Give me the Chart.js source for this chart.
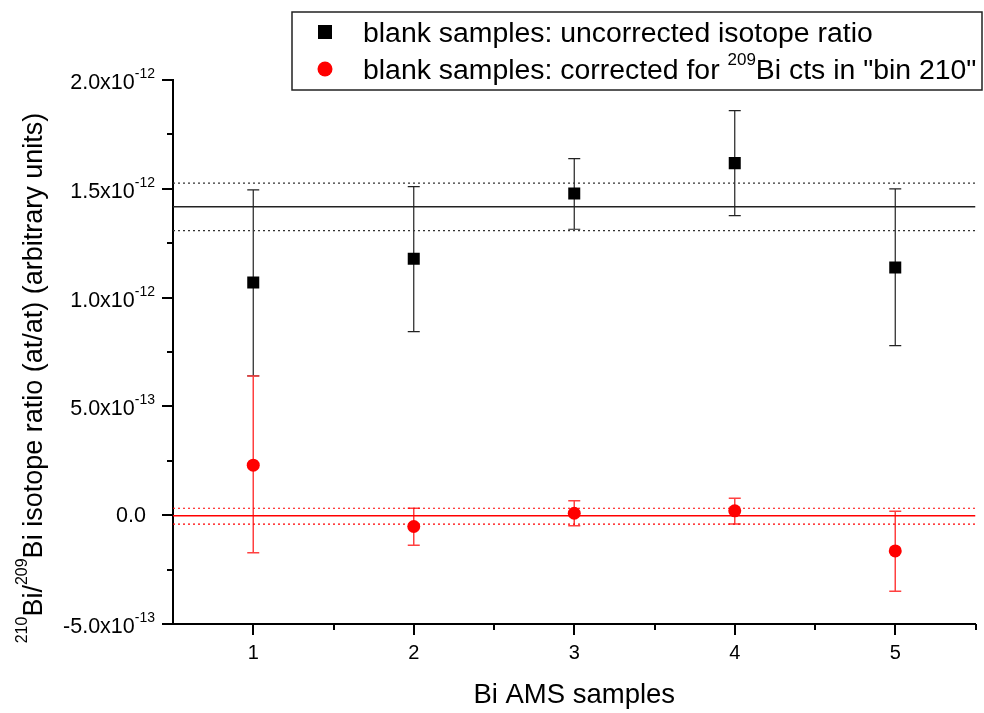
<!DOCTYPE html>
<html>
<head>
<meta charset="utf-8">
<script src="https://cdn.jsdelivr.net/npm/chart.js@4.4.0/dist/chart.umd.min.js"></script>
<style>
  body { margin: 0; background: #fff; }
  #wrap { width: 984px; height: 713px; }
</style>
</head>
<body>
<div id="wrap"><canvas id="chart" width="984" height="713"></canvas></div>
<script>
// sample numbers on the x axis
var samples = [1, 2, 3, 4, 5];

// blank samples, uncorrected isotope ratio (value, lower and upper end of error bar)
var uncorrected     = [1.069e-12, 1.179e-12, 1.478e-12, 1.618e-12, 1.138e-12];
var uncorrectedLow  = [0.640e-12, 0.844e-12, 1.314e-12, 1.377e-12, 0.779e-12];
var uncorrectedHigh = [1.495e-12, 1.510e-12, 1.639e-12, 1.859e-12, 1.500e-12];

// blank samples, corrected for 209Bi counts in "bin 210"
var corrected     = [2.30e-13, -0.52e-13, 0.09e-13, 0.20e-13, -1.64e-13];
var correctedLow  = [-1.72e-13, -1.38e-13, -0.49e-13, -0.41e-13, -3.49e-13];
var correctedHigh = [6.40e-13, 0.32e-13, 0.66e-13, 0.78e-13, 0.18e-13];

// weighted means with their bands
var uncorrectedMean = 1.417e-12;
var uncorrectedBand = [1.308e-12, 1.526e-12];
var correctedMean = -0.03e-13;
var correctedBand = [-0.41e-13, 0.32e-13];

// axis ticks
var xRange = [0.5, 5.5];
var xTicks = [1, 2, 3, 4, 5];
var xMinorTicks = [1.5, 2.5, 3.5, 4.5, 5.5];
var yRange = [-5e-13, 2e-12];
var yTicks = [-5e-13, 0, 5e-13, 1e-12, 1.5e-12, 2e-12];
var yTickMantissa = ["-5.0x10", "0.0", "5.0x10", "1.0x10", "1.5x10", "2.0x10"];
var yTickExponent = ["-13", "", "-13", "-12", "-12", "-12"];
var yMinorTicks = [-2.5e-13, 2.5e-13, 7.5e-13, 1.25e-12, 1.75e-12];

var FONT = "'Liberation Sans', Arial, Helvetica, sans-serif";
var RED = "#ff0000";

function pts(xs, ys) {
    var out = [];
    for (var i = 0; i < xs.length; i++) {
        out.push({x: xs[i], y: ys[i]});
    }
    return out;
}

function hline(y, color, dash, width) {
    return {
        type: "line",
        data: [{x: xRange[0], y: y}, {x: xRange[1], y: y}],
        borderColor: color,
        borderWidth: width,
        borderDash: dash,
        pointRadius: 0,
        fill: false
    };
}

// draw text made of pieces, some of them superscripts
function drawRich(ctx, parts, x, y, mainSize, supSize, supRise) {
    var cx = x;
    for (var i = 0; i < parts.length; i++) {
        var p = parts[i];
        ctx.font = (p.sup ? supSize : mainSize) + "px " + FONT;
        ctx.fillText(p.t, cx, p.sup ? y - supRise : y);
        cx += ctx.measureText(p.t).width;
    }
    return cx - x;
}

function richWidth(ctx, parts, mainSize, supSize) {
    var w = 0;
    for (var i = 0; i < parts.length; i++) {
        ctx.font = (parts[i].sup ? supSize : mainSize) + "px " + FONT;
        w += ctx.measureText(parts[i].t).width;
    }
    return w;
}

// error bars go under the markers
var errorBars = {
    id: "errorBars",
    beforeDatasetsDraw: function(chart) {
        var ctx = chart.ctx;
        var xs = chart.scales.x, ys = chart.scales.y;
        var sets = [
            {v: uncorrectedLow, h: uncorrectedHigh, color: "#222", w: 1.2},
            {v: correctedLow, h: correctedHigh, color: "#ff4040", w: 1.5}
        ];
        ctx.save();
        sets.forEach(function(s) {
            ctx.strokeStyle = s.color;
            ctx.lineWidth = s.w;
            for (var i = 0; i < samples.length; i++) {
                var px = xs.getPixelForValue(samples[i]);
                var lo = ys.getPixelForValue(s.v[i]);
                var hi = ys.getPixelForValue(s.h[i]);
                ctx.beginPath();
                ctx.moveTo(px, lo); ctx.lineTo(px, hi);
                ctx.moveTo(px - 6, lo); ctx.lineTo(px + 6, lo);
                ctx.moveTo(px - 6, hi); ctx.lineTo(px + 6, hi);
                ctx.stroke();
            }
        });
        ctx.restore();
    }
};

// ticks, tick labels, axis titles and the legend box
var decorations = {
    id: "decorations",
    afterDraw: function(chart) {
        var ctx = chart.ctx;
        var xs = chart.scales.x, ys = chart.scales.y;
        var area = chart.chartArea;
        ctx.save();
        ctx.strokeStyle = "#000";
        ctx.fillStyle = "#000";
        ctx.lineWidth = 2;
        ctx.beginPath();
        yTicks.forEach(function(v) {
            var py = Math.round(ys.getPixelForValue(v));
            ctx.moveTo(area.left, py); ctx.lineTo(area.left - 11, py);
        });
        yMinorTicks.forEach(function(v) {
            var py = Math.round(ys.getPixelForValue(v));
            ctx.moveTo(area.left, py); ctx.lineTo(area.left - 6, py);
        });
        xTicks.forEach(function(v) {
            var px = Math.round(xs.getPixelForValue(v));
            ctx.moveTo(px, area.bottom); ctx.lineTo(px, area.bottom + 11);
        });
        xMinorTicks.forEach(function(v) {
            var px = Math.round(xs.getPixelForValue(v));
            ctx.moveTo(px, area.bottom); ctx.lineTo(px, area.bottom + 6);
        });
        ctx.stroke();

        // y tick labels
        ctx.textBaseline = "alphabetic";
        ctx.textAlign = "left";
        for (var i = 0; i < yTicks.length; i++) {
            var py = ys.getPixelForValue(yTicks[i]);
            var parts = [{t: yTickMantissa[i]}];
            if (yTickExponent[i]) parts.push({t: yTickExponent[i], sup: true});
            var w = richWidth(ctx, parts, 21.5, 14);
            var right = yTickExponent[i] ? 155 : 146;
            var base = yTickExponent[i] ? py + 9 : py + 7;
            drawRich(ctx, parts, right - w, base, 21.5, 14, 11);
        }

        // x tick labels
        ctx.font = "20px " + FONT;
        ctx.textAlign = "center";
        xTicks.forEach(function(v) {
            ctx.fillText(String(v), xs.getPixelForValue(v), 659);
        });

        // x title
        ctx.font = "27.5px " + FONT;
        ctx.fillText("Bi AMS samples", (area.left + area.right) / 2, 703);

        // y title, rotated
        ctx.textAlign = "left";
        var yTitle = [
            {t: "210", sup: true}, {t: "Bi/"}, {t: "209", sup: true},
            {t: "Bi isotope ratio (at/at) (arbitrary units)"}
        ];
        var tw = richWidth(ctx, yTitle, 27, 16);
        ctx.save();
        ctx.translate(42, 378);
        ctx.rotate(-Math.PI / 2);
        drawRich(ctx, yTitle, -tw / 2, 0, 27, 16, 15);
        ctx.restore();

        // legend
        ctx.lineWidth = 1.5;
        ctx.strokeStyle = "#222";
        ctx.fillStyle = "#fff";
        ctx.fillRect(292, 12, 690, 78);
        ctx.strokeRect(292, 12, 690, 78);
        ctx.fillStyle = "#000";
        ctx.fillRect(318, 25, 14, 14);
        ctx.fillStyle = RED;
        ctx.beginPath();
        ctx.arc(325, 69, 7.5, 0, Math.PI * 2);
        ctx.fill();
        ctx.fillStyle = "#000";
        drawRich(ctx, [{t: "blank samples: uncorrected isotope ratio"}], 363, 42, 28.4, 17, 14);
        drawRich(ctx, [
            {t: "blank samples: corrected for "}, {t: "209", sup: true},
            {t: "Bi cts in \"bin 210\""}
        ], 363, 79, 28.4, 17, 14);
        ctx.restore();
    }
};

var ctx = document.getElementById("chart").getContext("2d");
var chart = new Chart(ctx, {
    type: "scatter",
    data: {
        datasets: [
            {
                label: "blank samples: uncorrected isotope ratio",
                data: pts(samples, uncorrected),
                pointStyle: "rect",
                pointRadius: 8.5,
                pointBackgroundColor: "#000",
                pointBorderWidth: 0
            },
            {
                label: "blank samples: corrected for 209Bi cts in \"bin 210\"",
                data: pts(samples, corrected),
                pointStyle: "circle",
                pointRadius: 6.5,
                pointBackgroundColor: RED,
                pointBorderWidth: 0
            },
            hline(uncorrectedMean, "#222", [], 1.5),
            hline(uncorrectedBand[0], "#333", [2, 3], 1.2),
            hline(uncorrectedBand[1], "#333", [2, 3], 1.2),
            hline(correctedMean, RED, [], 1.5),
            hline(correctedBand[0], RED, [2, 3], 1.2),
            hline(correctedBand[1], RED, [2, 3], 1.2)
        ]
    },
    options: {
        responsive: false,
        animation: false,
        devicePixelRatio: 1,
        layout: { padding: { left: 0, top: 80, right: 5.5, bottom: 0 } },
        plugins: { legend: { display: false }, tooltip: { enabled: false } },
        scales: {
            x: {
                type: "linear",
                min: xRange[0],
                max: xRange[1],
                grid: { display: false },
                ticks: { display: false },
                border: { display: true, color: "#000", width: 2 },
                afterFit: function(scale) { scale.height = 89; }
            },
            y: {
                type: "linear",
                min: yRange[0],
                max: yRange[1],
                grid: { display: false },
                ticks: { display: false },
                border: { display: true, color: "#000", width: 2 },
                afterFit: function(scale) { scale.width = 173; }
            }
        }
    },
    plugins: [errorBars, decorations]
});
</script>
</body>
</html>
